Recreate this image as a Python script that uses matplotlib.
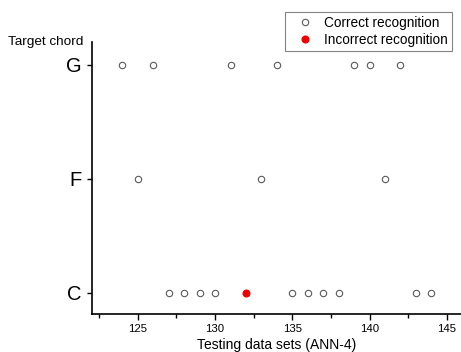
import numpy as np
import matplotlib
matplotlib.use("Agg")
import matplotlib.pyplot as plt
from matplotlib.ticker import MultipleLocator

plt.rcParams['font.family'] = ['Liberation Sans', 'DejaVu Sans']

chords = ['C', 'F', 'G']
g_sets = [124, 126, 131, 134, 139, 140, 142]
f_sets = [125, 133, 141]
c_sets = [127, 128, 129, 130, 135, 136, 137, 138, 143, 144]
c_wrong = [132]

fig = plt.figure(figsize=(4.61, 3.52), dpi=100)
# axes box in pixels: left 91.5, right 461, bottom 314, top 42
ax = fig.add_axes([91.5 / 461, 1 - 314 / 352, 369.5 / 461, 272 / 352])

ok_style = dict(linestyle='none', marker='o', markersize=4.6, markerfacecolor='white',
                markeredgecolor='#5a5a5a', markeredgewidth=0.8)
ax.plot(g_sets, [2] * len(g_sets), label='Correct recognition', **ok_style)
ax.plot(f_sets, [1] * len(f_sets), **ok_style)
ax.plot(c_sets, [0] * len(c_sets), **ok_style)
ax.plot(c_wrong, [0] * len(c_wrong), linestyle='none', marker='o', markersize=4.8,
        color='#ee0000', label='Incorrect recognition')

ax.set_xlim(122.0, 145.92)
ax.set_ylim(-0.184, 2.197)
ax.set_yticks([0, 1, 2])
ax.set_yticklabels(chords, fontsize=14.5)
ax.xaxis.set_major_locator(MultipleLocator(5))
ax.xaxis.set_minor_locator(MultipleLocator(2.5))
ax.tick_params(axis='x', labelsize=8.2, length=4, width=1, pad=3)
ax.tick_params(axis='x', which='minor', length=3, width=1)
ax.tick_params(axis='y', length=3.5, width=1, pad=3.5)
for s in ['top', 'right']:
    ax.spines[s].set_visible(False)
for s in ['left', 'bottom']:
    ax.spines[s].set_linewidth(1.2)

ax.set_xlabel('Testing data sets (ANN-4)', fontsize=10, labelpad=3)
fig.text(0.018, 1 - 42 / 352, 'Target chord', fontsize=9.7, va='center')

leg = ax.legend(loc='upper right', bbox_to_anchor=(0.9756, 1.110), fontsize=9.8,
                frameon=True, fancybox=False, edgecolor='#666666',
                handletextpad=0.25, borderpad=0.3, labelspacing=0.2,
                handlelength=2.3, borderaxespad=0)
leg.get_frame().set_linewidth(0.8)

fig.savefig('out.png', dpi=100)
